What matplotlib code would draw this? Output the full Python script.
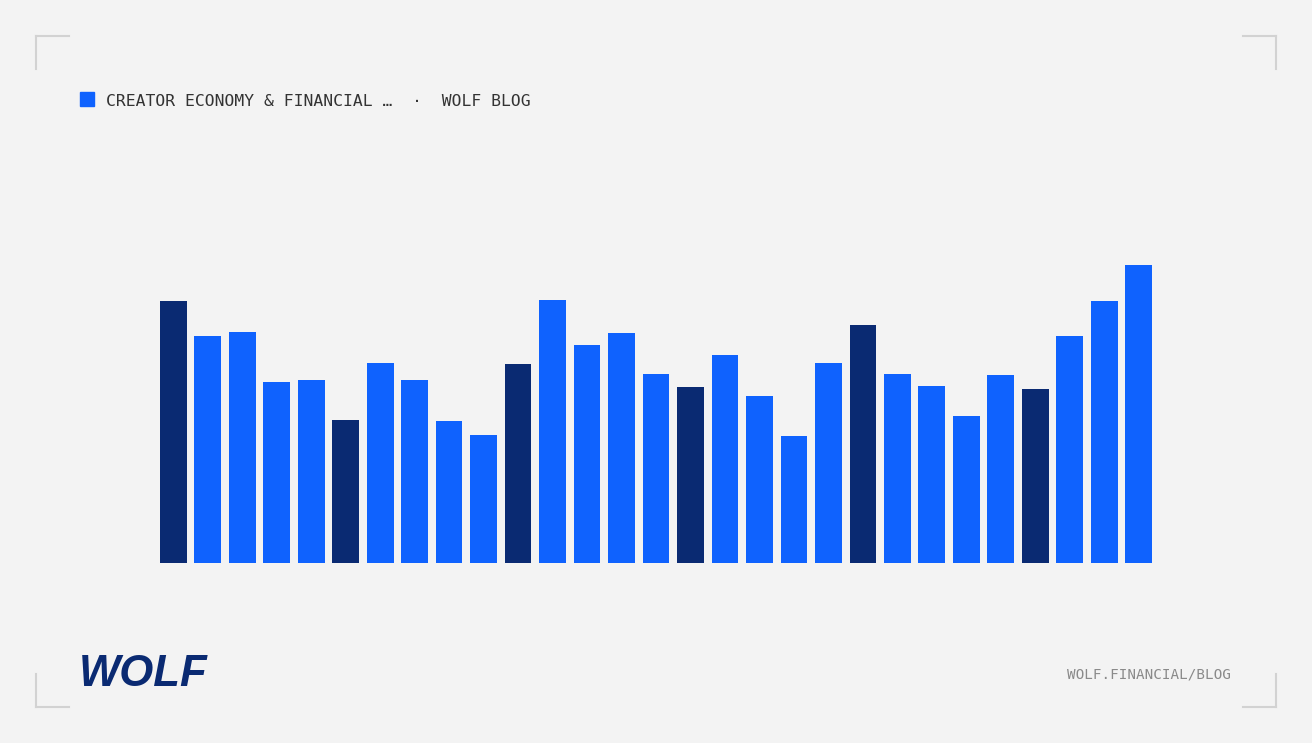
import matplotlib.pyplot as plt
import numpy as np
from matplotlib.lines import Line2D
from matplotlib.patches import Rectangle

# bar heights (pixel units)
values = [261.7, 226.4, 230.4, 181.0, 182.7, 143.0, 199.7, 182.4, 141.7, 127.7,
          199.0, 262.4, 218.0, 229.4, 188.7, 175.4, 208.0, 167.0, 126.4, 199.4,
          237.4, 189.0, 176.4, 146.7, 187.4, 173.7, 226.7, 262.0, 297.4]
highlight = [0, 5, 10, 15, 20, 25]

header = "CREATOR ECONOMY & FINANCIAL \u2026  \u00b7  WOLF BLOG"
footer = "WOLF.FINANCIAL/BLOG"
logo = "WOLF"

BG = "#f3f3f3"
BLUE = "#0f62fe"
NAVY = "#0a2a72"

W, H = 1312, 743
fig = plt.figure(figsize=(W / 100, H / 100), dpi=100, facecolor=BG)

# chart area
x0, x1 = 160, 1152
ybot, ytop = 562.7, 250
ax = fig.add_axes([x0 / W, (H - ybot) / H, (x1 - x0) / W, (ybot - ytop) / H])
ax.set_facecolor(BG)
n = len(values)
width = 0.774
colors = [NAVY if i in highlight else BLUE for i in range(n)]
ax.bar(np.arange(n), values, width=width, color=colors, linewidth=0)
ax.set_xlim(-width / 2, n - 1 + width / 2)
ax.set_ylim(0, ybot - ytop)
ax.axis("off")

# header legend square + text
fig.patches.append(Rectangle((80 / W, (H - 106) / H), 14 / W, 14 / H,
                             transform=fig.transFigure, color=BLUE))
fig.text(106 / W, (H - 106) / H, header, family="DejaVu Sans Mono",
         fontsize=11.8, color="#333333", va="baseline", ha="left")

# footer
fig.text(1231 / W, (H - 678.5) / H, footer, family="DejaVu Sans Mono",
         fontsize=10.3, color="#8a8a8a", va="baseline", ha="right")
fig.text(79 / W, (H - 686) / H, logo, family="Liberation Sans",
         fontweight="bold", style="italic", fontsize=31.5, color=NAVY,
         va="baseline", ha="left")

# corner brackets
gray = "#d2d2d2"
def bracket(cx, cy, dx, dy):
    L = 33
    fig.lines.append(Line2D([cx / W, (cx + dx * L) / W], [(H - cy) / H, (H - cy) / H],
                            transform=fig.transFigure, color=gray, lw=1.5))
    fig.lines.append(Line2D([cx / W, cx / W], [(H - cy) / H, (H - cy - dy * L) / H],
                            transform=fig.transFigure, color=gray, lw=1.5))

bracket(36, 36, 1, 1)
bracket(1276, 36, -1, 1)
bracket(36, 707, 1, -1)
bracket(1276, 707, -1, -1)

fig.savefig("out.png", dpi=100, facecolor=BG)
